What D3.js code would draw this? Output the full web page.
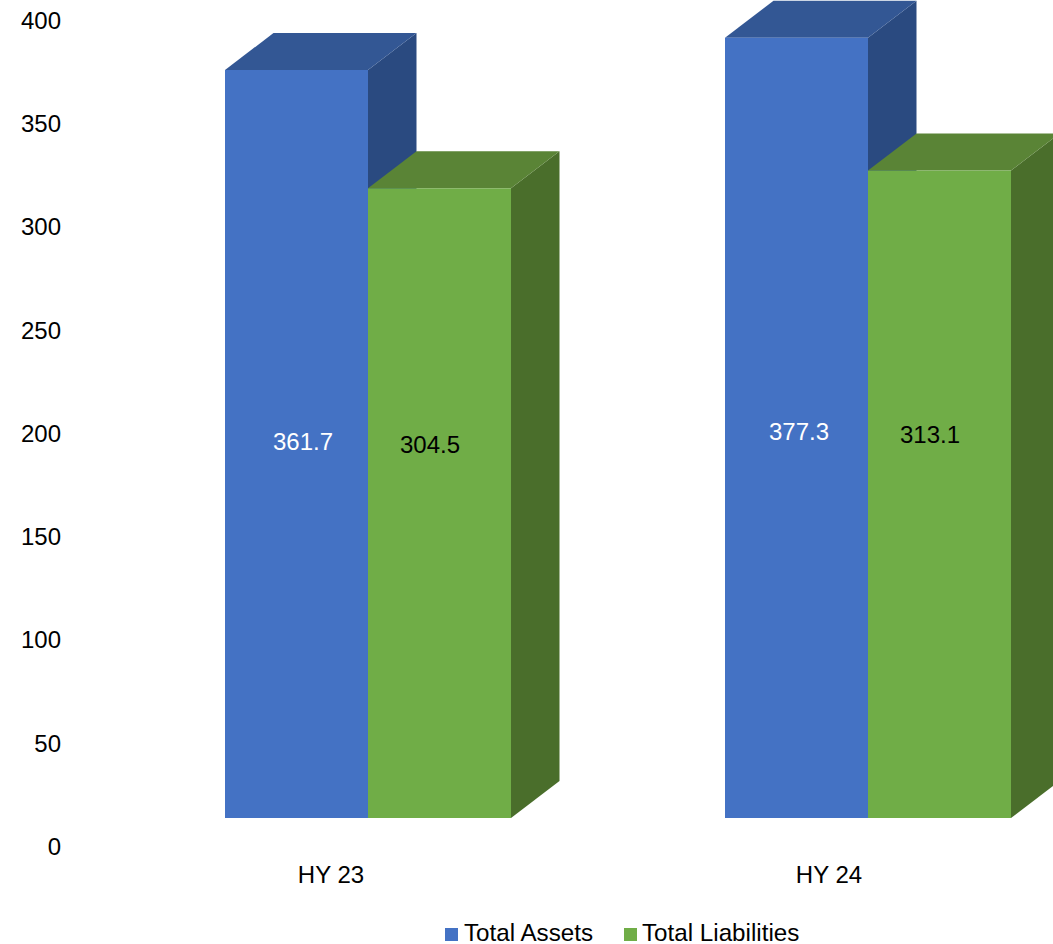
<!DOCTYPE html>
<html>
<head>
<meta charset="utf-8">
<script src="https://cdn.jsdelivr.net/npm/d3@7"></script>
<style>
  html, body { margin: 0; padding: 0; background: #fff; overflow: hidden; }
  text { font-family: "Liberation Sans", Arial, sans-serif; }
</style>
</head>
<body>
<script>
// Half-year balance sheet totals
const categories = ["HY 23", "HY 24"];
const seriesNames = ["Total Assets", "Total Liabilities"];
const totalAssets = [361.7, 377.3];
const totalLiabilities = [304.5, 313.1];
const axisTicks = [0, 50, 100, 150, 200, 250, 300, 350, 400];

const width = 1053, height = 944;
const baseline = 818;
const depthX = 48.5, depthY = -37;
const fontSize = 24;
const legendFontSize = 24.2;

const palette = {
  "Total Assets": { front: "#4472C4", top: "#335794", side: "#2A4A80", label: "#ffffff" },
  "Total Liabilities": { front: "#70AD47", top: "#5A8436", side: "#4A6E2B", label: "#000000" }
};

// Placement of the value labels: offset from the bar centre and height on the page
const labelNudge = [
  [{ x: 6.5, y: 442 }, { x: -9.5, y: 445 }],
  [{ x: 2.5, y: 432 }, { x: -9.5, y: 435 }]
];

const svg = d3.select("body").append("svg")
  .attr("width", width).attr("height", height)
  .style("display", "block");

const x0 = d3.scaleBand().domain(categories).range([118, 1118]);
const x1 = d3.scaleBand().domain(seriesNames).range([107, 393]);
// Bars stand on the front plane of the 3-D floor
const y = d3.scaleLinear().domain([0, 400]).range([baseline, baseline - 400 * 2.068]);
// The axis labels run along a slightly different, lower span
const yAxisScale = d3.scaleLinear().domain([0, 400]).range([846.7, 20.5]);

const axis = d3.axisLeft(yAxisScale).tickValues(axisTicks).tickSize(0).tickPadding(0);
svg.append("g")
  .attr("transform", "translate(61,0)")
  .call(axis)
  .call(g => g.select(".domain").remove())
  .call(g => g.selectAll("text")
    .attr("fill", "#000")
    .attr("font-size", fontSize)
    .style("font-family", '"Liberation Sans", Arial, sans-serif'));

const poly = pts => pts.map(p => p.join(",")).join(" ");

const rows = categories.map((c, i) => ({
  category: c,
  index: i,
  bars: [
    { name: seriesNames[0], value: totalAssets[i] },
    { name: seriesNames[1], value: totalLiabilities[i] }
  ]
}));

const groups = svg.selectAll("g.category").data(rows).join("g")
  .attr("class", "category")
  .attr("transform", d => `translate(${x0(d.category)},0)`);

const bars = groups.selectAll("g.bar").data(d => d.bars).join("g").attr("class", "bar");

bars.each(function (d) {
  const g = d3.select(this);
  const left = x1(d.name), right = left + x1.bandwidth();
  const top = y(d.value), colors = palette[d.name];
  g.append("polygon")
    .attr("fill", colors.side)
    .attr("points", poly([[right, top], [right + depthX, top + depthY],
      [right + depthX, baseline + depthY], [right, baseline]]));
  g.append("polygon")
    .attr("fill", colors.top)
    .attr("points", poly([[left, top], [left + depthX, top + depthY],
      [right + depthX, top + depthY], [right, top]]));
  g.append("rect")
    .attr("x", left).attr("y", top)
    .attr("width", x1.bandwidth()).attr("height", baseline - top)
    .attr("fill", colors.front);
});

// Value labels sit on top of every bar
groups.each(function (d) {
  const g = d3.select(this);
  d.bars.forEach((b, j) => {
    const nudge = labelNudge[d.index][j];
    g.append("text")
      .attr("x", x1(b.name) + x1.bandwidth() / 2 + nudge.x)
      .attr("y", nudge.y)
      .attr("dy", "0.35em")
      .attr("text-anchor", "middle")
      .attr("font-size", fontSize)
      .attr("fill", palette[b.name].label)
      .text(b.value.toFixed(1));
  });
});

// Category labels
svg.selectAll("text.cat").data(categories).join("text")
  .attr("class", "cat")
  .attr("x", (d, i) => [331, 829][i])
  .attr("y", 875)
  .attr("dy", "0.35em")
  .attr("text-anchor", "middle")
  .attr("font-size", fontSize)
  .attr("fill", "#000")
  .text(d => d);

// Legend
const legendX = [445, 624];
const legendTextX = [19, 18];
const legend = svg.selectAll("g.legend").data(seriesNames).join("g")
  .attr("class", "legend")
  .attr("transform", (d, i) => `translate(${legendX[i]},928)`);
legend.append("rect")
  .attr("width", 13).attr("height", 13)
  .attr("fill", d => palette[d].front);
legend.append("text")
  .attr("x", (d, i) => legendTextX[i]).attr("y", 4.8)
  .attr("dy", "0.35em")
  .attr("font-size", legendFontSize)
  .attr("fill", "#000")
  .text(d => d);
</script>
</body>
</html>
